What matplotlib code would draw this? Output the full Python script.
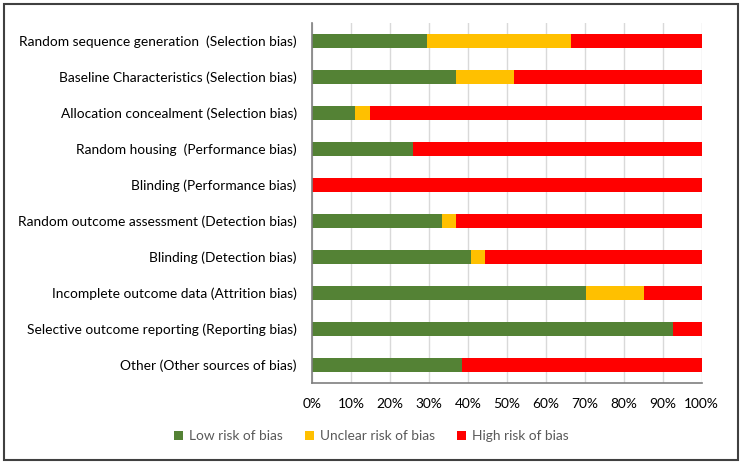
import numpy as np
import matplotlib
matplotlib.use("Agg")
from matplotlib import pyplot as plt
from matplotlib.patches import Rectangle

categories = [
    "Random sequence generation  (Selection bias)",
    "Baseline Characteristics (Selection bias)",
    "Allocation concealment (Selection bias)",
    "Random housing  (Performance bias)",
    "Blinding (Performance bias)",
    "Random outcome assessment (Detection bias)",
    "Blinding (Detection bias)",
    "Incomplete outcome data (Attrition bias)",
    "Selective outcome reporting (Reporting bias)",
    "Other (Other sources of bias)",
]
low_risk = [29.6, 37.0, 11.1, 25.9, 0.0, 33.3, 40.7, 70.4, 92.6, 38.5]
unclear_risk = [37.0, 14.8, 3.7, 0.0, 0.0, 3.7, 3.7, 14.8, 0.0, 0.0]
high_risk = [33.4, 48.2, 85.2, 74.1, 100.0, 63.0, 55.6, 14.8, 7.4, 61.5]
series_names = ["Low risk of bias", "Unclear risk of bias", "High risk of bias"]
colors = ["#548235", "#FFC000", "#FF0000"]

plt.rcParams['font.family'] = ['Lato', 'DejaVu Sans']

fig = plt.figure(figsize=(7.42, 4.66), dpi=100)
ax = fig.add_axes([0.4205, 0.178, 0.525, 0.7725])

y = np.arange(len(categories))
left = np.zeros(len(categories))
for vals, name, c in zip([low_risk, unclear_risk, high_risk], series_names, colors):
    ax.barh(y, vals, left=left, height=0.4, color=c, label=name, zorder=3)
    left = left + np.array(vals)

ax.set_xlim(0, 100)
ax.set_ylim(9.5, -0.5)
ax.set_yticks(y)
ax.set_yticklabels(categories, fontsize=9.9, color="#000000")
ax.set_xticks(np.arange(0, 101, 10))
ax.set_xticklabels([f"{v}%" for v in range(0, 101, 10)], fontsize=9.9)
ax.tick_params(axis='y', length=0, pad=11)
ax.tick_params(axis='x', length=0, pad=11)
ax.grid(axis='x', color="#d9d9d9", linewidth=1, zorder=0)
for s in ['top', 'right']:
    ax.spines[s].set_visible(False)
for s in ['left', 'bottom']:
    ax.spines[s].set_color("#7f7f7f")
    ax.spines[s].set_linewidth(1.2)
    ax.spines[s].set_zorder(4)

fig.legend(loc='center', bbox_to_anchor=(0.5, 0.064), ncol=3, frameon=False,
           fontsize=9.9, handlelength=0.7, handleheight=0.7, handletextpad=0.4,
           columnspacing=1.6, labelcolor="#595959")

# outer frame
fig.patches.append(Rectangle((0.006, 0.012), 0.988, 0.979, transform=fig.transFigure,
                             fill=False, edgecolor="#404040", linewidth=1.5))

fig.savefig("out.png", dpi=100)
